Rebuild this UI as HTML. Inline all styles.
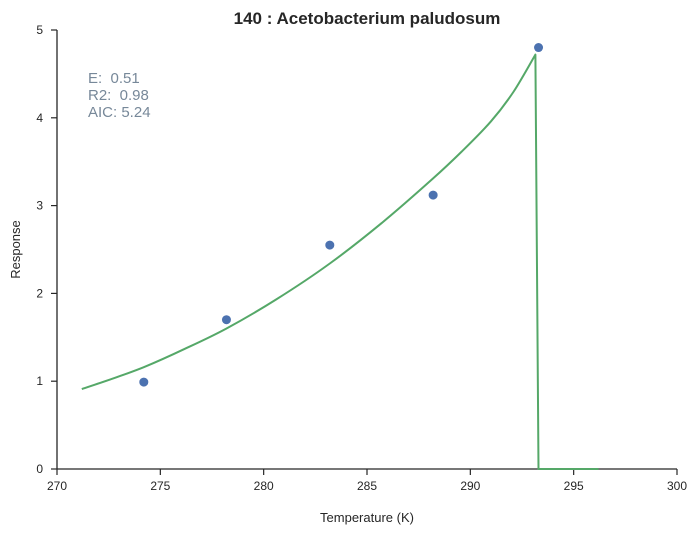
<!DOCTYPE html>
<html><head><meta charset="utf-8"><style>
body{margin:0;background:#fff;}
svg{display:block;font-family:"Liberation Sans",sans-serif;}
.pre{white-space:pre;}
</style></head><body>
<svg id="chart" width="698" height="533"></svg>
<script>
const xTicks=[270,275,280,285,290,295,300];
const yTicks=[0,1,2,3,4,5];
const pointT=[274.2,278.2,283.2,288.2,293.3];
const pointR=[0.99,1.70,2.55,3.12,4.80];
const curveT=[271.2,272.7,274.2,276.2,278.2,280.6,283.2,285.7,288.2,289.6,291.0,292.1,293.15];
const curveR=[0.91,1.03,1.16,1.37,1.60,1.93,2.34,2.80,3.31,3.62,3.96,4.30,4.72];
const dropT=[293.15,293.3,296.2];
const dropR=[4.72,0,0];
const annot=["E:  0.51","R2:  0.98","AIC: 5.24"];

const NS="http://www.w3.org/2000/svg";
const svg=document.getElementById('chart');
const X0=57,X1=677,Y0=469,Y1=30;
const sx=v=>X0+(v-270)/(300-270)*(X1-X0);
const sy=v=>Y0-(v-0)/(5-0)*(Y0-Y1);
function mk(tag,attrs,parent){const e=document.createElementNS(NS,tag);for(const k in attrs)e.setAttribute(k,attrs[k]);(parent||svg).appendChild(e);return e;}

const axes=mk('g',{});


const yl=mk('line',{x1:X0,y1:Y1,x2:X0,y2:Y0,stroke:'#262626','stroke-width':1.3},axes);


const xl=mk('line',{x1:X0,y1:Y0,x2:X1,y2:Y0,stroke:'#262626','stroke-width':1.3},axes);


xTicks.forEach(t=>{
  const l=mk('line',{x1:sx(t),x2:sx(t),y1:Y0,y2:Y0+6,stroke:'#262626','stroke-width':1.2},axes);
  
  
  const tx=mk('text',{x:sx(t),y:Y0+21,'text-anchor':'middle','font-size':12,fill:'#262626'},axes);
  
  
  tx.textContent=t;
});
yTicks.forEach(t=>{
  const l=mk('line',{x1:X0-6,x2:X0,y1:sy(t),y2:sy(t),stroke:'#262626','stroke-width':1.2},axes);
  
  
  const tx=mk('text',{x:X0-14,y:sy(t)+4,'text-anchor':'end','font-size':12,fill:'#262626'},axes);
  
  
  tx.textContent=t;
});
const xt=mk('text',{x:(X0+X1)/2,y:522,'text-anchor':'middle','font-size':13,fill:'#262626'});


xt.textContent='Temperature (K)';
const yt=mk('text',{x:20,y:(Y0+Y1)/2,'text-anchor':'middle','font-size':13,fill:'#262626',transform:`rotate(-90 20 ${(Y0+Y1)/2})`});


yt.textContent='Response';
const tt=mk('text',{x:(X0+X1)/2,y:24,'text-anchor':'middle','font-size':17,'font-weight':'bold',fill:'#262626'});


tt.textContent='140 : Acetobacterium paludosum';

// smooth Catmull-Rom through rising part
const P=curveT.map((t,i)=>[sx(t),sy(curveR[i])]);
let d='M'+P[0][0].toFixed(1)+','+P[0][1].toFixed(1);
for(let i=0;i<P.length-1;i++){
  const p0=P[i-1]||P[i],p1=P[i],p2=P[i+1],p3=P[i+2]||P[i+1];
  const c1=[p1[0]+(p2[0]-p0[0])/6,p1[1]+(p2[1]-p0[1])/6];
  const c2=[p2[0]-(p3[0]-p1[0])/6,p2[1]-(p3[1]-p1[1])/6];
  d+=` C${c1[0].toFixed(1)},${c1[1].toFixed(1)} ${c2[0].toFixed(1)},${c2[1].toFixed(1)} ${p2[0].toFixed(1)},${p2[1].toFixed(1)}`;
}
dropT.forEach((t,i)=>{ if(i>0) d+=` L${sx(t).toFixed(1)},${sy(dropR[i]).toFixed(1)}`; });
const curve=mk('path',{d:d,fill:'none',stroke:'#55a868','stroke-width':2,'stroke-linejoin':'round'});



pointT.forEach((t,i)=>{
  const c=mk('circle',{cx:sx(t),cy:sy(pointR[i]),r:4.5,fill:'#4c72b0'});
  
  
});

annot.forEach((s,i)=>{
  const a=mk('text',{x:88,y:83+i*17,'font-size':15,fill:'#778899','class':'pre'});
  
  
  a.textContent=s;
});
</script>
</body></html>
